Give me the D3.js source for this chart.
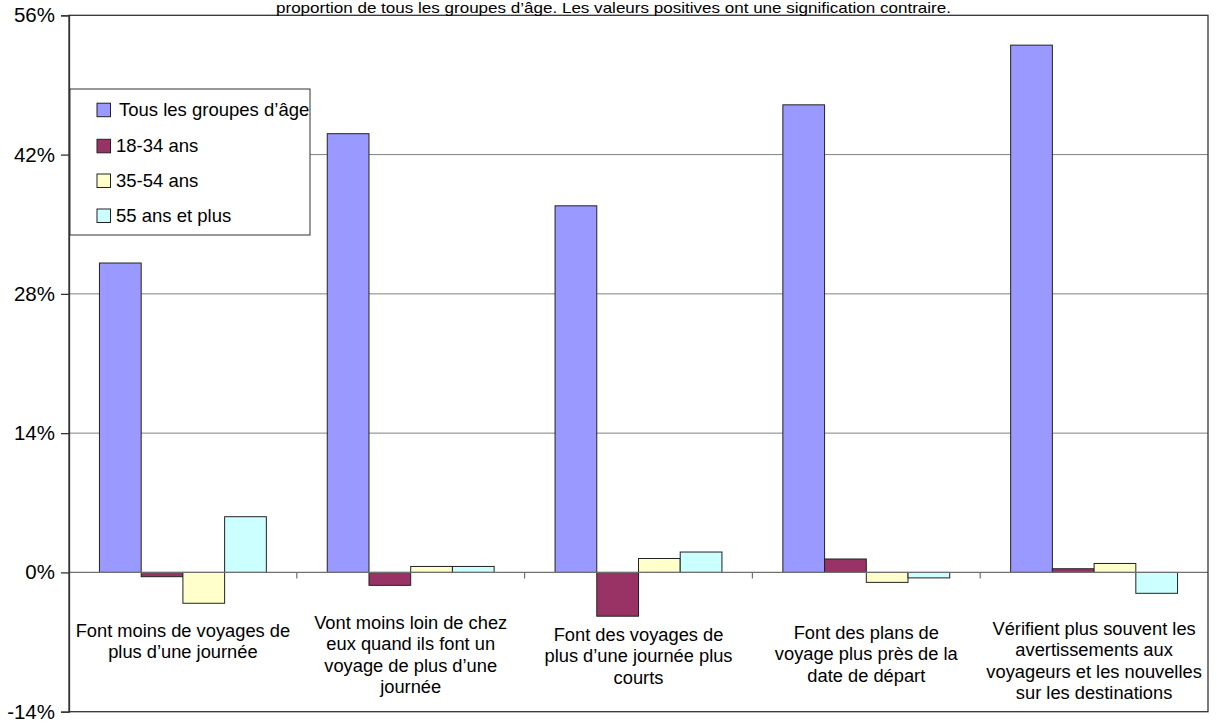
<!DOCTYPE html>
<html>
<head>
<meta charset="utf-8">
<script src="https://cdn.jsdelivr.net/npm/d3@7"></script>
<style>
  html, body { margin: 0; padding: 0; background: #fff; }
  svg { display: block; font-family: "Liberation Sans", Arial, sans-serif; }
</style>
</head>
<body>
<svg id="chart" width="1217" height="726"></svg>
<script>
// ---- data ----
const categories = [
  "Font moins de voyages de plus d’une journée",
  "Vont moins loin de chez eux quand ils font un voyage de plus d’une journée",
  "Font des voyages de plus d’une journée plus courts",
  "Font des plans de voyage plus près de la date de départ",
  "Vérifient plus souvent les avertissements aux voyageurs et les nouvelles sur les destinations"
];
const categoryLines = [
  ["Font moins de voyages de", "plus d’une journée"],
  ["Vont moins loin de chez", "eux quand ils font un", "voyage de plus d’une", "journée"],
  ["Font des voyages de", "plus d’une journée plus", "courts"],
  ["Font des plans de", "voyage plus près de la", "date de départ"],
  ["Vérifient plus souvent les", "avertissements aux", "voyageurs et les nouvelles", "sur les destinations"]
];
const seriesNames = ["Tous les groupes d’âge", "18-34 ans", "35-54 ans", "55 ans et plus"];
const allAges  = [31.1, 44.1, 36.85, 47.0, 53.0];
const age18_34 = [-0.43, -1.3, -4.4, 1.35, 0.37];
const age35_54 = [-3.1, 0.6, 1.4, -1.0, 0.9];
const age55    = [5.6, 0.6, 2.05, -0.55, -2.1];
const seriesValues = [allAges, age18_34, age35_54, age55];
const yTicks = [-14, 0, 14, 28, 42, 56];
const titleText = "proportion de tous les groupes d’âge. Les valeurs positives ont une signification contraire.";

// ---- styles / layout ----
const colors = ["#9999FF", "#993366", "#FFFFCC", "#CCFFFF"];
const plot = { left: 69, right: 1208, top: 15.3, bottom: 711.7 };
const labelFirstLineY = [630, 622, 634, 632, 628];

const svg = d3.select("#chart");

const y = d3.scaleLinear().domain([-14, 56]).range([plot.bottom, plot.top]);
const x0 = d3.scaleBand().domain(categories).range([plot.left, plot.right]).paddingInner(0).paddingOuter(0);
const x1 = d3.scaleBand().domain(seriesNames).range([0, x0.bandwidth()]).paddingInner(0).paddingOuter(0.73);

// gridlines
svg.append("g").selectAll("line")
  .data([14, 28, 42])
  .join("line")
  .attr("x1", plot.left).attr("x2", plot.right)
  .attr("y1", d => y(d)).attr("y2", d => y(d))
  .attr("stroke", "#808080").attr("stroke-width", 1);

// bars
const data = [];
categories.forEach((c, i) => {
  seriesNames.forEach((s, j) => data.push({ c, s, j, v: seriesValues[j][i] }));
});
svg.append("g").selectAll("rect")
  .data(data)
  .join("rect")
  .attr("x", d => x0(d.c) + x1(d.s))
  .attr("width", x1.bandwidth())
  .attr("y", d => y(Math.max(0, d.v)))
  .attr("height", d => Math.abs(y(d.v) - y(0)))
  .attr("fill", d => colors[d.j])
  .attr("stroke", "#222").attr("stroke-width", 1);

// zero (category) axis line with ticks downward
svg.append("line")
  .attr("x1", plot.left).attr("x2", plot.right)
  .attr("y1", y(0)).attr("y2", y(0))
  .attr("stroke", "#707070").attr("stroke-width", 1.2);
svg.append("g").selectAll("line")
  .data(categories.slice(1))
  .join("line")
  .attr("x1", d => x0(d)).attr("x2", d => x0(d))
  .attr("y1", y(0)).attr("y2", y(0) + 6)
  .attr("stroke", "#707070").attr("stroke-width", 1.2);

// plot border
svg.append("rect")
  .attr("x", plot.left).attr("y", plot.top)
  .attr("width", plot.right - plot.left).attr("height", plot.bottom - plot.top)
  .attr("fill", "none").attr("stroke", "#333").attr("stroke-width", 1.3);

// y axis
const yAxis = d3.axisLeft(y).tickValues(yTicks).tickSize(8).tickPadding(6).tickFormat(d => d + "%");
const ya = svg.append("g").attr("transform", `translate(${plot.left},0)`).call(yAxis);
ya.select(".domain").attr("stroke", "#333").attr("stroke-width", 1.3);
ya.selectAll(".tick line").attr("stroke", "#333").attr("stroke-width", 1.3);
ya.selectAll(".tick text").attr("font-size", 20.5).attr("fill", "#000")
  .attr("font-family", "Liberation Sans, Arial, sans-serif");

// category labels
categories.forEach((c, i) => {
  const t = svg.append("text")
    .attr("x", x0(c) + x0.bandwidth() / 2)
    .attr("y", labelFirstLineY[i])
    .attr("text-anchor", "middle")
    .attr("dominant-baseline", "central")
    .attr("font-size", 18.3)
    .attr("fill", "#000");
  categoryLines[i].forEach((ln, k) => {
    t.append("tspan")
      .attr("x", x0(c) + x0.bandwidth() / 2)
      .attr("dy", k === 0 ? 0 : 21.4)
      .text(ln);
  });
});

// title (visible line)
svg.append("text")
  .attr("x", 613.5).attr("y", 13)
  .attr("text-anchor", "middle")
  .attr("font-size", 14.2)
  .attr("textLength", 675)
  .attr("lengthAdjust", "spacingAndGlyphs")
  .attr("fill", "#000")
  .text(titleText);

// legend
const legend = svg.append("g");
legend.append("rect")
  .attr("x", 70).attr("y", 89).attr("width", 240).attr("height", 146)
  .attr("fill", "#fff").attr("stroke", "#333").attr("stroke-width", 1);
const legendY = [109.7, 145.8, 180.5, 215.5];
const legendTextX = [119, 116, 116, 116];
seriesNames.forEach((s, j) => {
  legend.append("rect")
    .attr("x", 97).attr("y", legendY[j] - 6.5).attr("width", 13.5).attr("height", 13.5)
    .attr("fill", colors[j]).attr("stroke", "#222").attr("stroke-width", 1);
  legend.append("text")
    .attr("x", legendTextX[j]).attr("y", legendY[j] + 6.6)
    .attr("font-size", 18.5).attr("fill", "#000")
    .text(s);
});
</script>
</body>
</html>
